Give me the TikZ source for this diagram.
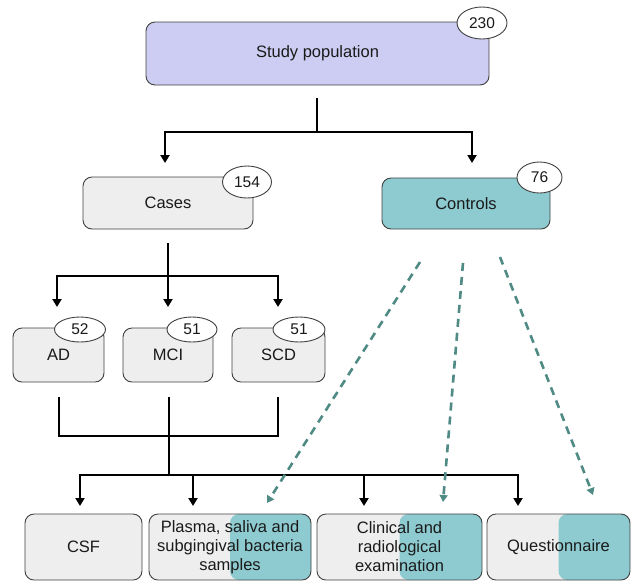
\documentclass[tikz,border=0pt]{standalone}
\usepackage{fontspec}
\setmainfont{Liberation Sans}
\usetikzlibrary{arrows.meta,shapes.geometric}
\definecolor{lav}{HTML}{CDCDF3}
\definecolor{grayfill}{HTML}{EEEEEE}
\definecolor{tealfill}{HTML}{8ECBD0}
\definecolor{boxline}{HTML}{404040}
\definecolor{txt}{HTML}{1A1A1A}
\definecolor{dashcol}{HTML}{4F8A84}
\begin{document}
\begin{tikzpicture}[x=1pt,y=-1pt,
 box/.style={draw=boxline, line width=0.9pt, rounded corners=9pt, fill=grayfill,
   font=\fontsize{16.5}{19}\selectfont, text=txt, align=center, inner sep=2pt},
 num/.style={ellipse, draw=boxline, line width=0.9pt, fill=white, inner sep=0pt,
   font=\fontsize{15.5}{18}\selectfont, text=txt},
 conn/.style={line width=2.6pt, draw=black},
 arr/.style={conn, -{Triangle[width=9pt,length=8pt]}},
 darr/.style={line width=2.6pt, draw=dashcol, dash pattern=on 8pt off 6pt,
   -{Triangle[width=8pt,length=7pt]}},
 half/.style={path picture={\fill[tealfill] (path picture bounding box.north) rectangle (path picture bounding box.south east);}}
]
\useasboundingbox (0,0) rectangle (631,582);

% boxes
\node[box, fill=lav, minimum width=343pt, minimum height=63pt] (study) at (317.5,53.5) {Study population};
\node[box, minimum width=170pt, minimum height=52pt] (cases) at (168,203) {Cases};
\node[box, fill=tealfill, minimum width=168pt, minimum height=51pt] (controls) at (466,203.5) {Controls};
\node[box, minimum width=91pt, minimum height=54pt] (ad) at (58.5,355) {AD};
\node[box, minimum width=90pt, minimum height=54pt] (mci) at (168,355) {MCI};
\node[box, minimum width=93pt, minimum height=54pt] (scd) at (278.5,355) {SCD};
\node[box, minimum width=117pt, minimum height=66pt] (csf) at (83.5,547) {CSF};
\node[box, half, minimum width=162pt, minimum height=66pt] (plasma) at (230,547) {Plasma, saliva and\\subgingival bacteria\\samples};
\node[box, half, minimum width=165pt, minimum height=66pt] (clin) at (399.5,547) {Clinical and\\radiological\\examination};
\node[box, half, minimum width=143pt, minimum height=66pt] (quest) at (558.5,547) {Questionnaire};

% counts
\node[num, minimum width=50pt, minimum height=32pt] (n230) at (482,23) {230};
\node[num, minimum width=49pt, minimum height=32pt] (n154) at (247,182) {154};
\node[num, minimum width=45pt, minimum height=31pt] (n76) at (539.5,177.5) {76};
\node[num, minimum width=51pt, minimum height=25pt] (n52) at (80,329.5) {52};
\node[num, minimum width=50pt, minimum height=25pt] (n51a) at (192,329.5) {51};
\node[num, minimum width=52pt, minimum height=25pt] (n51b) at (299,329.5) {51};

% connector coordinates
\coordinate (s1) at (317,98);
\coordinate (s2) at (317,132);
\coordinate (tc) at (165,163);
\coordinate (tk) at (472,163);
\coordinate (c1) at (168,243);
\coordinate (c2) at (168,276);
\coordinate (ta) at (57,307);
\coordinate (tm) at (168,307);
\coordinate (ts) at (278,307);
\coordinate (a1) at (59,397);
\coordinate (a2) at (59,436);
\coordinate (m1) at (169,397);
\coordinate (m2) at (169,436);
\coordinate (d1) at (278,397);
\coordinate (d2) at (278,436);
\coordinate (h) at (169,475);
\coordinate (t1) at (80,506);
\coordinate (t2) at (193,506);
\coordinate (t3) at (364,506);
\coordinate (t4) at (518,506);
\coordinate (k1) at (420,262);
\coordinate (e1) at (267,503);
\coordinate (k2) at (463,263);
\coordinate (e2) at (443,502);
\coordinate (k3) at (500,257);
\coordinate (e3) at (593,495);

% connectors
\draw[conn] (s1) -- (s2);
\draw[arr] (s2) -| (tc);
\draw[arr] (s2) -| (tk);
\draw[conn] (c1) -- (c2);
\draw[arr] (c2) -| (ta);
\draw[arr] (c2) -- (tm);
\draw[arr] (c2) -| (ts);
\draw[conn] (a1) -- (a2) -- (d2) -- (d1);
\draw[conn] (m1) -- (m2) -- (h);
\draw[arr] (h) -| (t1);
\draw[arr] (h) -| (t2);
\draw[arr] (h) -| (t3);
\draw[arr] (h) -| (t4);
\draw[darr] (k1) -- (e1);
\draw[darr] (k2) -- (e2);
\draw[darr] (k3) -- (e3);
\end{tikzpicture}
\end{document}
